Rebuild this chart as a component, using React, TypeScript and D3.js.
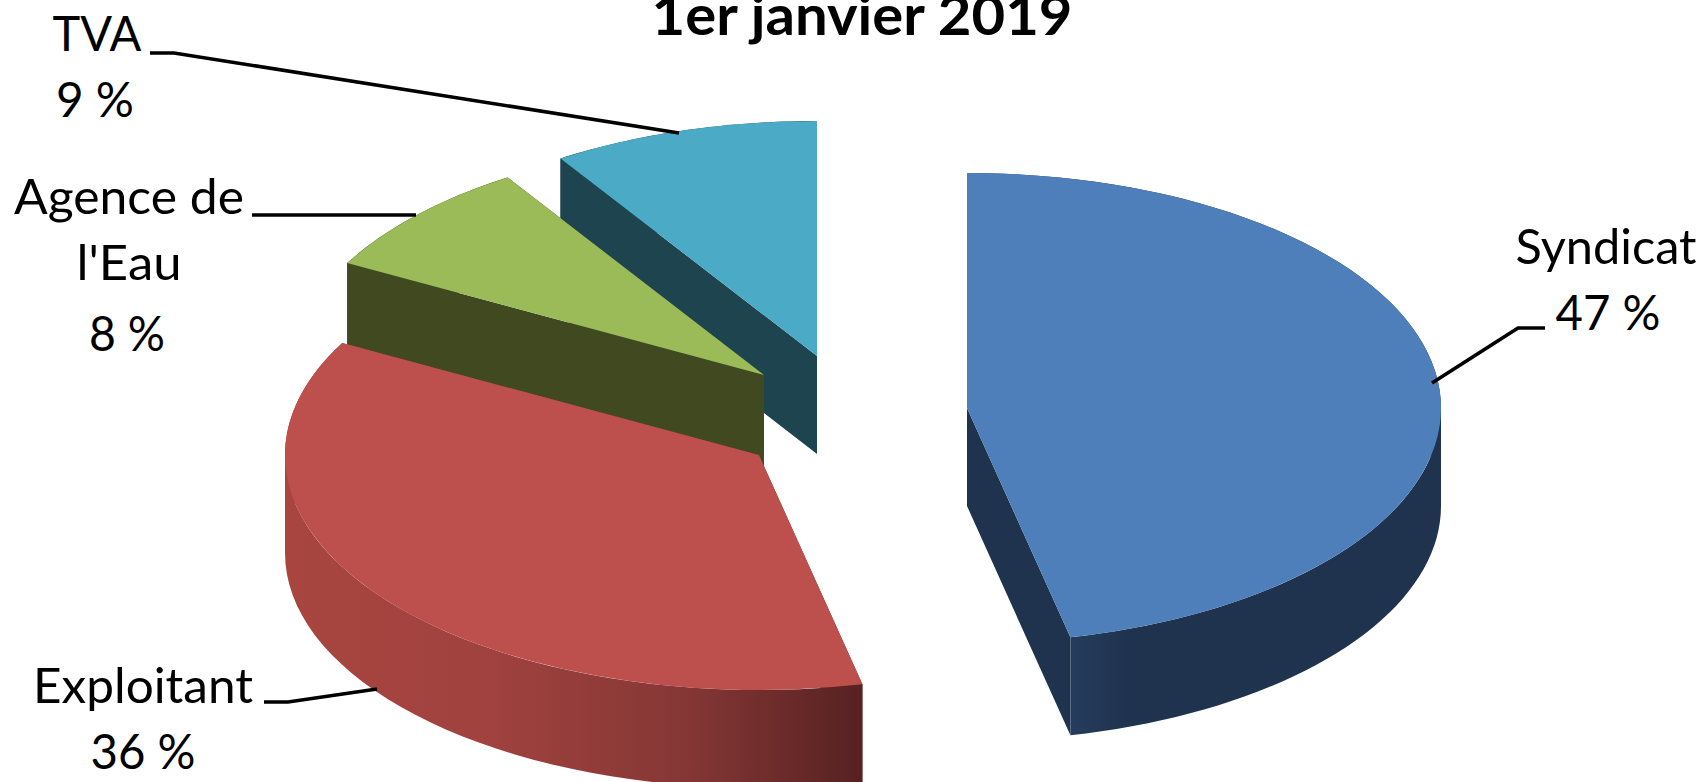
import React from 'react';
import * as d3 from 'd3';

const title = '1er janvier 2019';
const categories = ['Syndicat', 'Exploitant', "Agence de l'Eau", 'TVA'];
// shares, the printed labels round them
const values = [46.5, 36.4, 8.0, 9.1];

const topColors = ['#4f7fba', '#bd4f4c', '#9bbb59', '#4baac5'];
const wallColors = ['url(#wallBlue)', 'url(#wallRed)', '#40491f', '#1d444f'];

const width = 1704;
const height = 782;
const rx = 474;
const ry = 235;
const depth = 98;

// where each exploded slice has its apex
const sliceCenters = [[967, 408], [759, 455], [764, 375], [817, 356]];

// label lines: text, centre x, baseline, drawn width
const labelLayout = [
  { lines: [['Syndicat', 1606, 264, 181], ['%', 1608, 330, 105]], leader: [[1545, 328], [1518, 328], [1432, 383]] },
  { lines: [['Exploitant', 143, 703, 220], ['%', 143, 769, 105]], leader: [[264, 702], [288, 702], [377, 689]] },
  { lines: [['Agence de', 129, 214, 230], ["l'Eau", 129, 280, 105], ['%', 127, 351, 76]], leader: [[252, 215], [416, 215]] },
  { lines: [['TVA', 97, 51, 89], ['%', 95, 117, 78]], leader: [[150, 53], [174, 53], [679, 133]] },
];

const fmt = d3.format('.0f');

// the silhouette of the rim turns back on itself at 90 and 270 degrees
function rimPieces(start: number, end: number) {
  const stops = [start, Math.PI / 2, (3 * Math.PI) / 2, end].filter((a) => a >= start && a <= end);
  return d3.pairs(stops);
}

export default function App() {
  const pie = d3.pie<number>().sort(null).value((d) => d);
  const arcs = pie(values);

  const topArc = d3.arc<d3.PieArcDatum<number>>().innerRadius(0).outerRadius(rx);

  const wall = d3
    .area<[number, number]>()
    .x(([a, r]) => r * Math.sin(a))
    .y0(([a, r]) => (-r * Math.cos(a) * ry) / rx)
    .y1(([a, r]) => (-r * Math.cos(a) * ry) / rx + depth);

  const leaderLine = d3.line();

  return (
    <svg
      width={width}
      height={height}
      style={{ position: 'absolute', left: 0, top: 0, background: '#fff' }}
      fontFamily="Lato, 'Noto Sans', sans-serif"
    >
      <defs>
        <linearGradient id="wallRed" gradientUnits="userSpaceOnUse" x1={-476} y1={0} x2={98} y2={0}>
          <stop offset="0" stopColor="#a8453f" />
          <stop offset="0.35" stopColor="#a1423f" />
          <stop offset="0.7" stopColor="#853735" />
          <stop offset="1" stopColor="#582222" />
        </linearGradient>
        <linearGradient id="wallBlue" gradientUnits="userSpaceOnUse" x1={100} y1={0} x2={160} y2={0}>
          <stop offset="0" stopColor="#263d5e" />
          <stop offset="1" stopColor="#1f334f" />
        </linearGradient>
      </defs>

      {/* back slices first, the blue and red ones sit in front */}
      {[3, 2, 1, 0].map((i) => {
        const d = arcs[i];
        const [cx, cy] = sliceCenters[i];
        const cuts = [d.startAngle, d.endAngle].map((a): [number, number][] => [[a, 0], [a, rx]]);
        const rims = rimPieces(d.startAngle, d.endAngle).map(([a0, a1]) =>
          d3.range(0, 41).map((k): [number, number] => [a0 + ((a1 - a0) * k) / 40, rx])
        );
        return (
          <g key={categories[i]} transform={`translate(${cx},${cy})`}>
            {cuts.map((c, k) => (
              <path key={'c' + k} d={wall(c) as string} fill={i === 0 ? '#1f334f' : wallColors[i]} />
            ))}
            {rims.map((r, k) => (
              <path key={'r' + k} d={wall(r) as string} fill={wallColors[i]} />
            ))}
            <path d={topArc(d) as string} fill={topColors[i]} transform={`scale(1,${ry / rx})`} />
          </g>
        );
      })}

      {labelLayout.map((l, i) => (
        <g key={i}>
          <path d={leaderLine(l.leader as [number, number][]) as string} fill="none" stroke="#000" strokeWidth={3.6} />
          {l.lines.map(([txt, x, y, w]) => (
            <text
              key={String(txt)}
              x={x as number}
              y={y as number}
              textAnchor="middle"
              fontSize={48}
              textLength={w as number}
              lengthAdjust="spacingAndGlyphs"
              fill="#000"
            >
              {txt === '%' ? `${fmt(values[i])} %` : txt}
            </text>
          ))}
        </g>
      ))}

      <text
        x={862}
        y={35}
        textAnchor="middle"
        fontSize={56}
        fontWeight="bold"
        textLength={421}
        lengthAdjust="spacingAndGlyphs"
        fill="#000"
      >
        {title}
      </text>
    </svg>
  );
}
